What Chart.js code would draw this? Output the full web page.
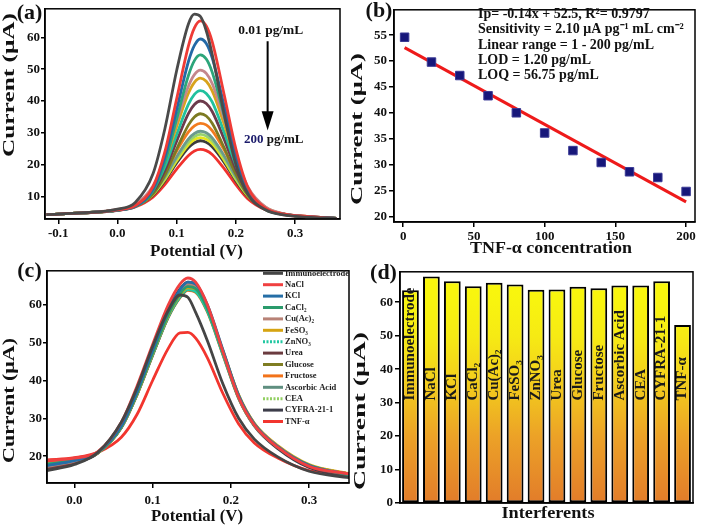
<!DOCTYPE html>
<html>
<head>
<meta charset="utf-8">
<script src="https://cdn.jsdelivr.net/npm/chart.js@4.4.1/dist/chart.umd.min.js"></script>
<style>
  body { margin: 0; background: #fff; }
  #wrap { position: relative; width: 702px; height: 527px; }
  canvas { position: absolute; }
</style>
</head>
<body>
<div id="wrap">
  <canvas id="ca" width="351" height="262" style="left:0;top:0"></canvas>
  <canvas id="cb" width="351" height="262" style="left:351px;top:0"></canvas>
  <canvas id="cc" width="351" height="265" style="left:0;top:262px"></canvas>
  <canvas id="cd" width="351" height="265" style="left:351px;top:262px"></canvas>
</div>
<script>
// ---- (a) DPV response, 0.01 -> 200 pg/mL ----
var potA = [-0.12, -0.06, 0.0, 0.03, 0.06, 0.08, 0.10, 0.12, 0.13, 0.14, 0.15, 0.16, 0.18, 0.20, 0.22, 0.25, 0.28, 0.32, 0.37];
var colorsA = ['#4a4a4a', '#ef3b36', '#2369a6', '#2ca57a', '#c4878c', '#d8a31c', '#21c19e', '#6c3b4c',
               '#7c7a22', '#f27b1f', '#6b9a8c', '#96d26e', '#e6e61c', '#3c3c3c', '#f0322e'];
var curvesA = [
  [4.3, 4.8, 6.0, 8.1, 17.1, 31.2, 49.6, 64.3, 67.3, 66.6, 62.1, 54.7, 36.1, 20.1, 10.8, 5.8, 4.2, 3.5, 3.1],
  [4.3, 4.8, 5.8, 7.1, 13.1, 24.0, 40.7, 57.4, 63.0, 65.2, 63.6, 58.7, 42.2, 25.0, 13.0, 6.3, 4.5, 3.7, 3.1],
  [4.3, 4.8, 5.7, 6.9, 12.3, 22.3, 37.3, 52.5, 57.5, 59.5, 58.1, 53.6, 38.7, 23.1, 12.2, 6.1, 4.4, 3.7, 3.1],
  [4.3, 4.8, 5.7, 6.8, 11.7, 20.7, 34.4, 48.1, 52.7, 54.5, 53.2, 49.1, 35.6, 21.4, 11.5, 5.9, 4.4, 3.6, 3.1],
  [4.3, 4.8, 5.9, 7.5, 13.3, 21.8, 33.6, 44.7, 48.3, 49.7, 48.7, 45.5, 34.6, 22.4, 13.1, 6.7, 4.6, 3.7, 3.1],
  [4.3, 4.8, 5.8, 7.4, 12.8, 20.9, 32.0, 42.5, 45.9, 47.2, 46.2, 43.2, 32.9, 21.4, 12.6, 6.6, 4.5, 3.7, 3.1],
  [4.3, 4.8, 5.8, 7.2, 12.1, 19.4, 29.5, 39.0, 42.1, 43.3, 42.4, 39.7, 30.3, 19.9, 11.9, 6.4, 4.5, 3.6, 3.1],
  [4.3, 4.8, 5.7, 7.1, 11.5, 18.2, 27.4, 36.1, 38.9, 40.0, 39.2, 36.7, 28.1, 18.6, 11.3, 6.2, 4.4, 3.6, 3.1],
  [4.3, 4.8, 5.7, 6.9, 10.8, 16.7, 24.9, 32.5, 35.0, 36.0, 35.3, 33.0, 25.4, 17.0, 10.5, 6.0, 4.4, 3.6, 3.1],
  [4.3, 4.8, 5.8, 7.3, 11.7, 17.3, 24.3, 30.3, 32.2, 33.0, 32.5, 30.7, 24.7, 17.4, 11.3, 6.4, 4.5, 3.6, 3.1],
  [4.3, 4.8, 5.7, 7.1, 11.1, 16.2, 22.5, 28.1, 29.8, 30.5, 30.0, 28.4, 22.9, 16.3, 10.7, 6.2, 4.4, 3.6, 3.1],
  [4.3, 4.8, 5.7, 7.0, 10.9, 15.8, 21.9, 27.2, 28.8, 29.5, 29.0, 27.5, 22.2, 15.8, 10.5, 6.2, 4.4, 3.6, 3.1],
  [4.3, 4.8, 5.7, 6.9, 10.6, 15.3, 21.2, 26.3, 27.9, 28.5, 28.0, 26.6, 21.5, 15.4, 10.2, 6.1, 4.4, 3.6, 3.1],
  [4.3, 4.8, 5.6, 6.9, 10.4, 14.9, 20.5, 25.4, 26.9, 27.5, 27.0, 25.6, 20.8, 14.9, 10.0, 6.0, 4.4, 3.6, 3.1],
  [4.3, 4.8, 5.6, 6.7, 9.8, 13.7, 18.6, 22.9, 24.3, 24.8, 24.4, 23.2, 18.8, 13.7, 9.3, 5.8, 4.3, 3.6, 3.1]
];
var ticksAx = [-0.1, 0.0, 0.1, 0.2, 0.3];
var ticksAy = [10, 20, 30, 40, 50, 60];

// ---- (b) calibration ----
var concB = [1, 20, 40, 60, 80, 100, 120, 140, 160, 180, 200];
var currB = [54.6, 49.8, 47.2, 43.3, 40.0, 36.1, 32.7, 30.4, 28.6, 27.5, 24.8];
var fitX = [1, 200];
var fitY = [52.6, 22.8];
var ticksBx = [0, 50, 100, 150, 200];
var ticksBy = [20, 25, 30, 35, 40, 45, 50, 55];
var notesB = ['Ip= -0.14x + 52.5, R\u00b2= 0.9797',
              'Sensitivity = 2.10 \u03bcA pg\u207b\u00b9 mL cm\u207b\u00b2',
              'Linear range = 1 - 200 pg/mL',
              'LOD = 1.20 pg/mL',
              'LOQ = 56.75 pg/mL'];

// ---- (c) interference DPV ----
var interferents = ['Immunoelectrode', 'NaCl', 'KCl', 'CaCl\u2082', 'Cu(Ac)\u2082', 'FeSO\u2083', 'ZnNO\u2083',
                    'Urea', 'Glucose', 'Fructose', 'Ascorbic Acid', 'CEA', 'CYFRA-21-1', 'TNF-\u03b1'];
var colorsC = ['#454545', '#f04040', '#256ea6', '#2a9b6c', '#b88276', '#d6a412', '#22c8a2',
               '#6b3b3f', '#7f7d22', '#f2731a', '#5f8f80', '#92d062', '#3d3d4a', '#f2352e'];
var dottedC = [false, false, false, false, false, false, true, false, false, false, false, true, false, false];
var potC = [-0.035, 0.0, 0.03, 0.06, 0.08, 0.10, 0.12, 0.135, 0.145, 0.155, 0.17, 0.19, 0.21, 0.23, 0.26, 0.30, 0.351];
var curvesC = [
  [16.2, 17.8, 21.0, 29.0, 38.0, 49.0, 58.5, 62.6, 62.0, 58.0, 50.5, 39.0, 30.0, 24.5, 19.8, 16.0, 14.3],
  [18.8, 19.5, 21.2, 29.0, 38.5, 49.5, 60.0, 65.5, 67.1, 66.0, 60.0, 47.5, 35.5, 28.2, 22.3, 17.3, 15.3],
  [17.5, 18.8, 21.0, 28.0, 37.0, 48.0, 58.5, 64.0, 66.0, 65.5, 60.0, 48.0, 36.0, 28.5, 22.5, 17.5, 15.2],
  [17.8, 19.0, 21.0, 27.8, 36.6, 47.3, 57.5, 62.9, 64.8, 64.3, 59.0, 47.3, 35.6, 28.3, 22.4, 17.6, 15.0],
  [17.3, 18.7, 21.0, 27.9, 36.8, 47.7, 58.1, 63.5, 65.5, 65.0, 59.6, 47.7, 35.8, 28.4, 22.5, 17.5, 15.2],
  [17.6, 18.9, 20.9, 27.7, 36.4, 47.1, 57.2, 62.6, 64.5, 64.3, 59.3, 47.8, 36.2, 28.7, 22.8, 17.8, 15.4],
  [17.9, 19.0, 20.9, 27.6, 36.3, 46.8, 56.8, 62.1, 64.0, 63.5, 58.3, 46.8, 35.3, 28.1, 22.4, 17.6, 15.3],
  [16.8, 18.4, 20.8, 27.5, 36.2, 46.7, 56.8, 62.1, 64.0, 63.6, 58.5, 47.0, 35.5, 28.2, 22.3, 17.3, 14.8],
  [17.2, 18.6, 20.9, 27.6, 36.4, 47.0, 57.2, 62.6, 64.5, 64.2, 59.0, 47.5, 36.0, 28.6, 22.6, 17.6, 15.2],
  [18.2, 19.2, 21.0, 27.6, 36.2, 46.7, 56.7, 61.9, 63.8, 63.3, 58.1, 46.7, 35.2, 28.1, 22.4, 17.6, 15.3],
  [17.6, 18.9, 21.0, 27.8, 36.6, 47.4, 57.7, 63.0, 65.0, 64.6, 59.3, 47.6, 35.9, 28.5, 22.5, 17.6, 15.3],
  [17.9, 19.1, 21.0, 27.8, 36.6, 47.4, 57.7, 63.0, 65.0, 64.6, 59.3, 47.6, 35.9, 28.5, 22.5, 17.6, 15.3],
  [16.5, 18.2, 20.8, 28.5, 37.5, 48.5, 58.8, 64.2, 66.0, 65.3, 59.6, 47.3, 35.4, 28.0, 22.0, 17.0, 14.6],
  [19.0, 19.6, 21.0, 25.0, 31.0, 40.0, 48.5, 52.6, 52.7, 51.2, 46.0, 36.5, 28.5, 23.5, 19.5, 16.2, 15.0]
];
var ticksCx = [0.0, 0.1, 0.2, 0.3];
var ticksCy = [20, 30, 40, 50, 60];

// ---- (d) interference bars ----
var currD = [63.6, 67.7, 66.3, 64.8, 65.8, 65.3, 63.7, 63.8, 64.6, 64.2, 65.0, 65.0, 66.3, 53.2];
var ticksDy = [0, 10, 20, 30, 40, 50, 60];

var SERIF = '"Liberation Serif", "Times New Roman", serif';

function txt(ctx, s, x, y, size, len, rot, align, color) {
  ctx.save();
  ctx.translate(x, y);
  if (rot) ctx.rotate(-Math.PI / 2);
  ctx.font = 'bold ' + size + 'px ' + SERIF;
  ctx.textAlign = align || 'center';
  ctx.textBaseline = 'middle';
  if (len) {
    var w = ctx.measureText(s).width;
    ctx.scale(len / w, 1);
  }
  ctx.fillStyle = color || '#111';
  ctx.fillText(s, 0, 0);
  ctx.restore();
}

function axis(min, max, ticks, fmt, tickLen, pad, size, isX) {
  return {
    type: 'linear', min: min, max: max,
    afterBuildTicks: function (s) { s.ticks = ticks.map(function (v) { return { value: v }; }); },
    afterFit: function (s) { if (isX) s.height = size; else s.width = size; },
    ticks: {
      color: '#111', padding: pad, maxRotation: 0, autoSkip: false,
      font: { family: SERIF, weight: 'bold', size: 13 },
      callback: fmt
    },
    grid: { drawOnChartArea: false, drawTicks: true, tickLength: tickLen, color: '#000', lineWidth: 1.5 },
    border: { display: true, color: '#000', width: 1.5 }
  };
}
function f1(v) { return v.toFixed(1); }
function f0(v) { return String(v); }

var frame = {
  id: 'frame',
  afterDraw: function (chart) {
    var a = chart.chartArea, ctx = chart.ctx;
    ctx.save();
    ctx.strokeStyle = '#000';
    ctx.lineWidth = 1.5;
    ctx.strokeRect(a.left, a.top, a.right - a.left, a.bottom - a.top);
    ctx.restore();
  }
};

function lineSets(xs, curves, colors) {
  return curves.map(function (ys, i) {
    return {
      data: ys.map(function (y, j) { return { x: xs[j], y: y }; }),
      borderColor: colors[i], borderWidth: 2.8, pointRadius: 0,
      cubicInterpolationMode: 'monotone', fill: false
    };
  });
}

var base = { responsive: false, animation: false, plugins: { legend: { display: false }, tooltip: { enabled: false } } };
function opts(extra) { return Object.assign({}, base, extra); }

// (a)
new Chart('ca', {
  type: 'line',
  data: { datasets: lineSets(potA, curvesA, colorsA) },
  options: opts({
    layout: { padding: { top: 3, right: 11, left: 0, bottom: 0 } },
    scales: {
      x: axis(-0.1225, 0.376, ticksAx, f1, 5, 2, 43, true),
      y: axis(2.9, 69, ticksAy, f0, 4, 1, 45, false)
    }
  }),
  plugins: [frame, {
    id: 'labelsA',
    afterDraw: function (chart) {
      var ctx = chart.ctx, sx = chart.scales.x, sy = chart.scales.y;
      txt(ctx, 'Current (\u03bcA)', 10, 85, 17, 144, true);
      txt(ctx, 'Potential (V)', 196.5, 252, 17, 93);
      txt(ctx, '(a)', 29.5, 13.5, 22);
      txt(ctx, '0.01 pg/mL', sx.getPixelForValue(0.259), sy.getPixelForValue(62.2), 13.5, 65);
      var ax = sx.getPixelForValue(0.2537);
      var yTop = sy.getPixelForValue(58.8), yTip = sy.getPixelForValue(30.7), yHead = sy.getPixelForValue(36.8);
      ctx.save();
      ctx.strokeStyle = '#000'; ctx.lineWidth = 2;
      ctx.beginPath(); ctx.moveTo(ax, yTop); ctx.lineTo(ax, yHead + 1); ctx.stroke();
      ctx.fillStyle = '#000';
      ctx.beginPath(); ctx.moveTo(ax - 6, yHead); ctx.lineTo(ax + 6, yHead); ctx.lineTo(ax, yTip); ctx.closePath(); ctx.fill();
      ctx.restore();
      var ty = sy.getPixelForValue(28.0), tx = sx.getPixelForValue(0.264);
      ctx.save();
      ctx.font = 'bold 13px ' + SERIF;
      var w1 = ctx.measureText('200 ').width, w2 = ctx.measureText('pg/mL').width;
      ctx.restore();
      var left = tx - (w1 + w2) / 2;
      txt(ctx, '200 ', left, ty, 13, 0, false, 'left', '#1b1b6b');
      txt(ctx, 'pg/mL', left + w1, ty, 13, 0, false, 'left');
    }
  }]
});

// (b)
new Chart('cb', {
  type: 'scatter',
  data: {
    datasets: [
      {
        type: 'line',
        data: fitX.map(function (x, i) { return { x: x, y: fitY[i] }; }),
        borderColor: '#ee1a1a', borderWidth: 3, pointRadius: 0, fill: false, order: 2
      },
      {
        data: concB.map(function (x, i) { return { x: x, y: currB[i] }; }),
        pointStyle: 'rect', pointRadius: 6, backgroundColor: '#17177a',
        borderColor: '#3a3a95', borderWidth: 1, order: 1
      }
    ]
  },
  options: opts({
    layout: { padding: { top: 3, right: 3, left: 0, bottom: 0 } },
    scales: {
      x: axis(-6.5, 206.3, ticksBx, f0, 5, 2, 40, true),
      y: axis(18.9, 59.9, ticksBy, f0, 5, 2, 43, false)
    }
  }),
  plugins: [frame, {
    id: 'labelsB',
    afterDraw: function (chart) {
      var ctx = chart.ctx;
      txt(ctx, 'Current (\u03bcA)', 7, 129, 17, 152, true);
      txt(ctx, 'TNF-\u03b1 concentration', 200, 249, 17, 162);
      txt(ctx, '(b)', 28, 11.5, 22);
      var ys = [14, 29.5, 45, 60, 75];
      notesB.forEach(function (s, i) { txt(ctx, s, 127, ys[i], 14, 0, false, 'left'); });
    }
  }]
});

// (c)
new Chart('cc', {
  type: 'line',
  data: { datasets: lineSets(potC, curvesC, colorsC) },
  options: opts({
    layout: { padding: { top: 3, right: 2, left: 0, bottom: 0 } },
    scales: {
      x: axis(-0.035, 0.351, ticksCx, f1, 5, 5, 44, true),
      y: axis(12.9, 69, ticksCy, f0, 4, 1, 47, false)
    }
  }),
  plugins: [frame, {
    id: 'labelsC',
    afterDraw: function (chart) {
      var ctx = chart.ctx;
      txt(ctx, 'Current (\u03bcA)', 10, 138.5, 17, 125, true);
      txt(ctx, 'Potential (V)', 197, 255, 17, 92);
      txt(ctx, '(c)', 29.5, 9, 22);
      interferents.forEach(function (name, i) {
        var y = 11.3 + i * 11.4;
        ctx.save();
        ctx.strokeStyle = colorsC[i]; ctx.lineWidth = 3;
        if (dottedC[i]) ctx.setLineDash([2, 1.5]);
        ctx.beginPath(); ctx.moveTo(263, y); ctx.lineTo(283, y); ctx.stroke();
        ctx.restore();
        txt(ctx, name, 285, y, 8.5, 0, false, 'left', '#222');
      });
    }
  }]
});

// (d)
function barGradient(context) {
  var chart = context.chart, a = chart.chartArea;
  if (!a) return '#f0c020';
  var g = chart.ctx.createLinearGradient(0, a.bottom, 0, a.top);
  g.addColorStop(0, '#e27c2a');
  g.addColorStop(0.29, '#eca227');
  g.addColorStop(0.43, '#f0bd20');
  g.addColorStop(0.58, '#f4d61a');
  g.addColorStop(0.72, '#f6ea14');
  g.addColorStop(0.87, '#f8f40f');
  g.addColorStop(1, '#faf80c');
  return g;
}
new Chart('cd', {
  type: 'bar',
  data: {
    labels: interferents,
    datasets: [{
      data: currD, backgroundColor: barGradient, borderColor: '#000', borderWidth: 2,
      borderSkipped: false, barPercentage: 0.8, categoryPercentage: 1
    }]
  },
  options: opts({
    layout: { padding: { top: 4, right: 9, left: 0, bottom: 0 } },
    scales: {
      x: {
        ticks: { display: false },
        grid: { display: false },
        border: { display: true, color: '#000', width: 1.5 },
        afterFit: function (s) { s.height = 24; }
      },
      y: axis(0, 69.1, ticksDy, f0, 5, 2, 49, false)
    }
  }),
  plugins: [frame, {
    id: 'labelsD',
    afterDraw: function (chart) {
      var ctx = chart.ctx, sy = chart.scales.y;
      var meta = chart.getDatasetMeta(0);
      var y0 = sy.getPixelForValue(30.6);
      meta.data.forEach(function (bar, i) {
        txt(ctx, interferents[i], bar.x, y0, 15, 0, true, 'left', '#1a1a1a');
      });
      txt(ctx, 'Current (\u03bcA)', 10, 149, 17, 158, true);
      txt(ctx, 'Interferents', 197, 252, 17, 93);
      txt(ctx, '(d)', 32.5, 11.5, 22);
    }
  }]
});
</script>
</body>
</html>
